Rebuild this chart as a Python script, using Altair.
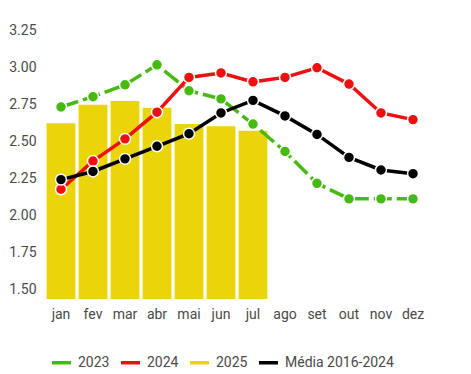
import altair as alt
import pandas as pd

months = ["jan", "fev", "mar", "abr", "mai", "jun", "jul", "ago", "set", "out", "nov", "dez"]
series_names = ["2023", "2024", "2025", "Média 2016-2024"]
colors = ["#47BA12", "#EC1010", "#EAD40A", "#000000"]

v2023 = [2.73, 2.80, 2.88, 3.015, 2.84, 2.785, 2.615, 2.43, 2.215, 2.11, 2.11, 2.11]
v2024 = [2.175, 2.365, 2.515, 2.695, 2.93, 2.96, 2.90, 2.93, 2.995, 2.885, 2.69, 2.645]
v2025 = [2.62, 2.745, 2.77, 2.725, 2.615, 2.60, 2.57]
vmedia = [2.24, 2.295, 2.38, 2.465, 2.55, 2.69, 2.775, 2.67, 2.545, 2.39, 2.305, 2.28]

y_ticks = [1.50, 1.75, 2.00, 2.25, 2.50, 2.75, 3.00, 3.25]
y_domain = [1.434, 3.25]

bars = pd.DataFrame({"mes": months[:len(v2025)], "valor": v2025, "serie": "2025"})
dashed = pd.DataFrame({"mes": months, "valor": v2023, "serie": "2023", "ordem": 0})
solid = pd.concat([
    pd.DataFrame({"mes": months, "valor": v2024, "serie": "2024", "ordem": 1}),
    pd.DataFrame({"mes": months, "valor": vmedia, "serie": "Média 2016-2024", "ordem": 3}),
], ignore_index=True)
points = pd.concat([dashed, solid], ignore_index=True)

FONT = "Roboto"
TXT = "#4a4a4a"

x_enc = alt.X("mes:N", sort=months, title=None,
              scale=alt.Scale(paddingInner=0.1, paddingOuter=0.05),
              axis=alt.Axis(labelAngle=0, domain=False, ticks=False, grid=False,
                            labelPadding=8, labelFontSize=14, labelColor=TXT, labelFont=FONT))
y_enc = alt.Y("valor:Q", title=None,
              scale=alt.Scale(domain=y_domain, nice=False, zero=False),
              axis=alt.Axis(values=y_ticks, format=".2f", domain=False, ticks=False, grid=False,
                            labelPadding=9, labelFontSize=14, labelColor=TXT, labelFont=FONT))
color_scale = alt.Scale(domain=series_names, range=colors)
color_enc = alt.Color("serie:N", title=None, scale=color_scale,
                      legend=alt.Legend(orient="none", legendX=5, legendY=321, direction="horizontal",
                                        symbolType="stroke", symbolStrokeWidth=3.5, symbolSize=361,
                                        symbolDash=[1, 0],
                                        labelFontSize=14, labelColor=TXT, labelFont=FONT,
                                        labelOffset=5, columnPadding=4))

bar_layer = alt.Chart(bars).mark_bar(clip=True).encode(
    x=x_enc, y=y_enc, color=color_enc)

solid_layer = alt.Chart(solid).mark_line(strokeWidth=3.5).encode(
    x=x_enc, y=y_enc, color=color_enc, order=alt.Order("ordem:Q"))

dashed_layer = alt.Chart(dashed).mark_line(strokeWidth=3.5, strokeDash=[18, 5],
                                           color=colors[0]).encode(
    x=x_enc, y=y_enc)

point_layer = alt.Chart(points).mark_point(filled=True, size=120, stroke="white",
                                           strokeWidth=1.5, opacity=1).encode(
    x=x_enc, y=y_enc,
    fill=alt.Fill("serie:N", scale=color_scale, legend=None),
    order=alt.Order("ordem:Q"))

chart = alt.layer(bar_layer, dashed_layer, solid_layer, point_layer).properties(
    width=384, height=269,
    autosize=alt.AutoSizeParams(type="none"),
    padding={"left": 37, "top": 22, "right": 34, "bottom": 75},
).configure(font=FONT).configure_view(stroke=None)

chart.save("out.html", embed_options={"renderer": "svg", "actions": False})
